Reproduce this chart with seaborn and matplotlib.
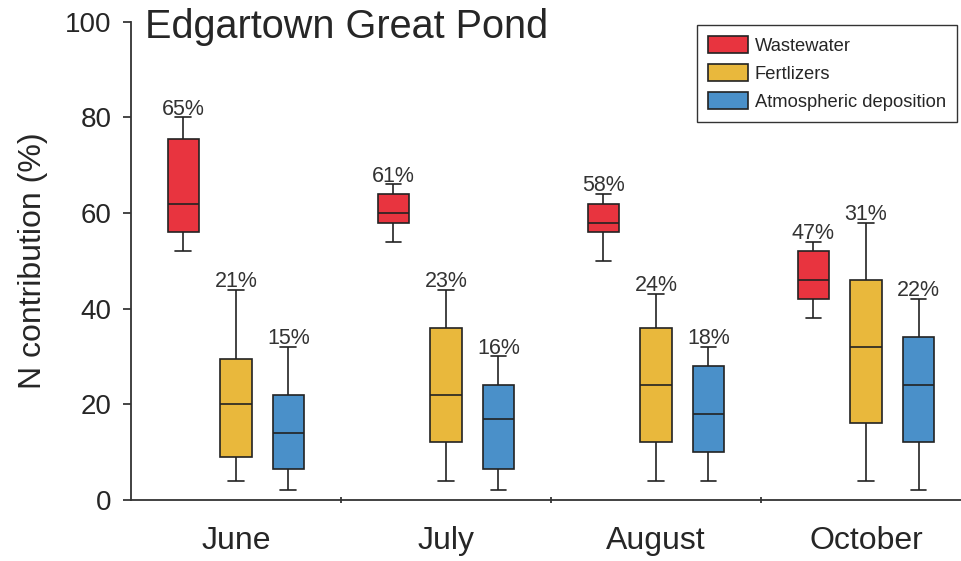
"""Edgartown Great Pond - N source contributions by month (box plots)"""
import pandas as pd
import seaborn as sns
import matplotlib.pyplot as plt

months = ["June", "July", "August", "October"]
sources = ["Wastewater", "Fertlizers", "Atmospheric deposition"]
colors = ["#E8343F", "#E9B83C", "#4A90C9"]

# five-number summaries per month: min, q1, median, q3, max
wastewater = [[52, 56, 62, 75.5, 80], [54, 58, 60, 64, 66], [50, 56, 58, 62, 64], [38, 42, 46, 52, 54]]
fertilizers = [[4, 9, 20, 29.5, 44], [4, 12, 22, 36, 44], [4, 12, 24, 36, 43], [4, 16, 32, 46, 58]]
atmospheric = [[2, 6.5, 14, 22, 32], [2, 6.5, 17, 24, 30], [4, 10, 18, 28, 32], [2, 12, 24, 34, 42]]

# mean contributions printed above each box
wastewater_pct = [65, 61, 58, 47]
fertilizers_pct = [21, 23, 24, 31]
atmospheric_pct = [15, 16, 18, 22]

summaries = {"Wastewater": wastewater, "Fertlizers": fertilizers, "Atmospheric deposition": atmospheric}
percents = {"Wastewater": wastewater_pct, "Fertlizers": fertilizers_pct, "Atmospheric deposition": atmospheric_pct}

rows = []
for src, per_month in summaries.items():
    for m, vals in zip(months, per_month):
        for v in vals:
            rows.append({"month": m, "source": src, "value": v})
df = pd.DataFrame(rows)

sns.set_style("ticks")
plt.rcParams["font.family"] = ["Liberation Sans", "DejaVu Sans"]

fig = plt.figure(figsize=(9.62, 5.61), dpi=100)
ax = fig.add_axes([0.136, 0.109, 0.864, 0.852])

box_width = 0.75
sns.boxplot(
    data=df, x="month", y="value", hue="source",
    order=months, hue_order=sources, palette=colors, saturation=1,
    width=box_width, gap=0.4, whis=1.5, showfliers=False,
    linecolor="#222222", linewidth=1.2, ax=ax,
)

# percentage labels above the upper whiskers
n = len(sources)
for j, src in enumerate(sources):
    offset = (j - (n - 1) / 2) * box_width / n
    for i, m in enumerate(months):
        top = max(summaries[src][i])
        ax.text(i + offset, top + 0.6, f"{percents[src][i]}%", ha="center",
                va="baseline", fontsize=15.5, color="#333333")

ax.set_xlim(-0.5, 3.457)
ax.set_ylim(0, 100)
ax.set_yticks([0, 20, 40, 60, 80, 100])
ax.set_xticks(range(len(months)), months)
ax.set_xticks([0.5, 1.5, 2.5], minor=True)
ax.tick_params(axis="x", which="major", length=0, pad=19, labelsize=23)
ax.tick_params(axis="x", which="minor", length=5, direction="inout", width=1.2)
ax.tick_params(axis="y", length=6, width=1.2, pad=8, labelsize=20)
ax.set_xlabel("")
ax.set_ylabel("N contribution (%)", fontsize=23, labelpad=12)

for side in ["top", "right"]:
    ax.spines[side].set_visible(False)
for side in ["left", "bottom"]:
    ax.spines[side].set_linewidth(1.3)
    ax.spines[side].set_color("#333333")

fig.text(145 / 962, 1 - 38 / 561, "Edgartown Great Pond", fontsize=28.5, va="baseline", ha="left")

handles, labels = ax.get_legend_handles_labels()
ax.legend(handles, labels, loc="upper left",
          bbox_to_anchor=(697 / 962, 1 - 25 / 561), bbox_transform=fig.transFigure,
          frameon=True, fancybox=False, framealpha=1, edgecolor="#333333",
          fontsize=13.2, handlelength=2.2, handleheight=1.05, labelspacing=0.5,
          handletextpad=0.35, borderpad=0.6, borderaxespad=0)

fig.savefig("out.png", dpi=100)
